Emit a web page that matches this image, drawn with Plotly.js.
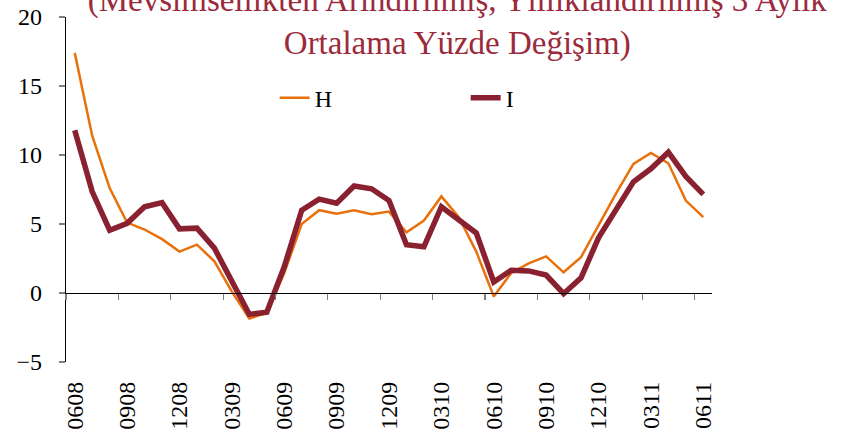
<!DOCTYPE html>
<html>
<head>
<meta charset="utf-8">
<script src="https://cdn.plot.ly/plotly-3.0.1.min.js"></script>
<style>html,body{margin:0;padding:0;background:#fff;}#chart{width:850px;height:437px;}</style>
</head>
<body>
<div id="chart"></div>
<script>
var months = ['0608','0708','0808','0908','1008','1108','1208','0109','0209','0309','0409','0509',
  '0609','0709','0809','0909','1009','1109','1209','0110','0210','0310','0410','0510',
  '0610','0710','0810','0910','1010','1110','1210','0111','0211','0311','0411','0511','0611'];
var seriesH = [17.4, 11.4, 7.6, 5.1, 4.6, 3.9, 3.0, 3.5, 2.3, 0.1, -1.85, -1.45, 1.45, 5.0, 6.0, 5.75,
  6.0, 5.7, 5.9, 4.4, 5.25, 7.0, 5.5, 3.0, -0.25, 1.45, 2.15, 2.65, 1.5, 2.6, 4.9, 7.2, 9.35, 10.15, 9.4, 6.7, 5.5];
var seriesI = [11.8, 7.35, 4.55, 5.05, 6.25, 6.55, 4.65, 4.7, 3.25, 0.75, -1.55, -1.4, 1.9, 6.0, 6.8, 6.5,
  7.75, 7.55, 6.7, 3.5, 3.35, 6.25, 5.3, 4.35, 0.8, 1.65, 1.6, 1.3, -0.05, 1.1, 4.0, 6.0, 8.05, 9.0, 10.2, 8.45, 7.15];
var seriesNames = ['H', 'I'];
var titleText = '(Mevsimsellikten Arındırılmış, Yıllıklandırılmış 3 Aylık<br>Ortalama Yüzde Değişim)';

var serif = 'Liberation Serif, Times New Roman, serif';
var traces = [
  {x: months, y: seriesH, name: seriesNames[0], type: 'scatter', mode: 'lines',
   line: {color: '#E8710C', width: 2.5}, xaxis: 'x', yaxis: 'y'},
  {x: months, y: seriesI, name: seriesNames[1], type: 'scatter', mode: 'lines',
   line: {color: '#8A2130', width: 5.5}, xaxis: 'x', yaxis: 'y'},
  {x: months, y: seriesI, type: 'scatter', mode: 'lines', opacity: 0, showlegend: false,
   hoverinfo: 'skip', line: {width: 0}, xaxis: 'x2', yaxis: 'y'}
];
var layout = {
  width: 850, height: 437,
  margin: {l: 66, r: 138, t: 17, b: 75},
  paper_bgcolor: '#fff', plot_bgcolor: '#fff',
  showlegend: true,
  title: {text: titleText, font: {family: serif, size: 33, color: '#9B2B3C'},
          x: 0.538, xanchor: 'center', xref: 'container', y: 0.975, yanchor: 'middle', yref: 'container'},
  legend: {orientation: 'h', x: 0.323, xanchor: 'left', y: 0.765, yanchor: 'middle',
           font: {family: serif, size: 24, color: '#000'}, entrywidth: 146, bgcolor: 'rgba(0,0,0,0)'},
  xaxis: {type: 'category', categoryarray: months, categoryorder: 'array', range: [-0.5, 36.5],
          anchor: 'free', position: 0.2, showline: true, linecolor: '#000', linewidth: 1.2,
          ticks: 'outside', tickson: 'boundaries', dtick: 3, ticklen: 6, tickcolor: '#7f7f7f', tickwidth: 1.2,
          showticklabels: false, showgrid: false, zeroline: false, fixedrange: true},
  xaxis2: {type: 'category', categoryarray: months, categoryorder: 'array', range: [-0.5, 36.5],
           overlaying: 'x', anchor: 'y', side: 'bottom', showline: false, ticks: '', dtick: 3,
           tickangle: -90, ticklabelstandoff: 14, showgrid: false, zeroline: false,
           tickfont: {family: serif, size: 24, color: '#000'}},
  yaxis: {range: [-5, 20], dtick: 5, showline: true, linecolor: '#000', linewidth: 1.2,
          ticks: 'outside', ticklen: 6, tickcolor: '#7f7f7f', tickwidth: 1.2, showgrid: false, zeroline: false,
          ticklabelstandoff: 12, tickfont: {family: serif, size: 24, color: '#000'}}
};
Plotly.newPlot('chart', traces, layout, {displayModeBar: false, staticPlot: true});
</script>
</body>
</html>
